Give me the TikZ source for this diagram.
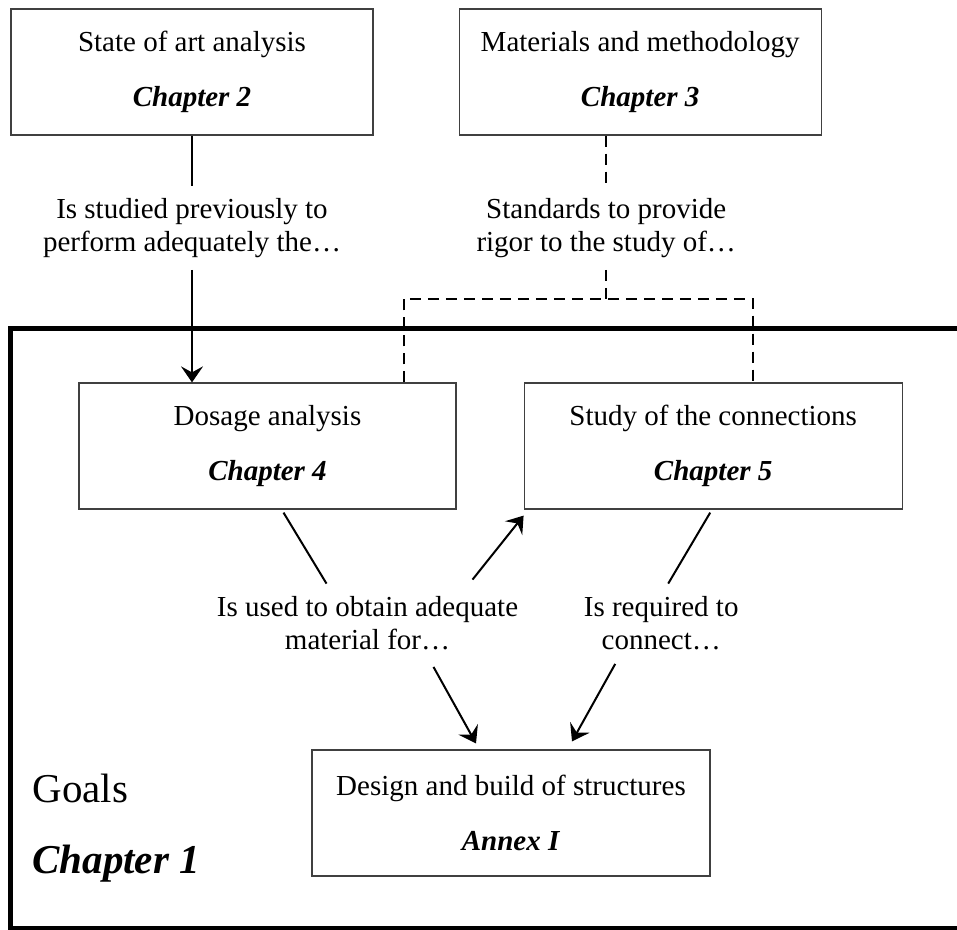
\documentclass[tikz,border=0pt]{standalone}
\usepackage{fontspec}
\setmainfont{Liberation Serif}
\usepackage{xcolor}
\usepackage{tikz}
\usetikzlibrary{arrows.meta, positioning, calc}
\definecolor{boxline}{HTML}{404040}
\newcommand{\chapref}[1]{%
    \textbf{\textit{#1}}%
}

\begin{document}
\begin{tikzpicture}[
        x=0.5pt, y=-0.5pt,
        font=\fontsize{14.5}{16.5}\selectfont,
        chapbox/.style={
            draw=boxline,
            line width=0.6pt,
            minimum height=63pt,
            align=center
        },
        linklabel/.style={align=center, inner sep=6pt},
        link/.style={line width=1pt},
        arrow/.style={-{Stealth[length=8pt, width=11pt, inset=3pt]}, line width=1pt},
        dashlink/.style={line width=1pt, dash pattern=on 5.5pt off 3.5pt},
        frame/.style={line width=2.5pt},
        goalstext/.style={anchor=base west, inner sep=0pt, font=\fontsize{20.5}{24}\selectfont}
    ]
        \path[use as bounding box, clip] (0,0) rectangle (957,930);

        \node[chapbox, minimum width=181pt] (ch2) at (192,72) {State of art analysis\\[11pt]\chapref{Chapter 2}};
        \node[chapbox, minimum width=181pt, right=42.5pt of ch2] (ch3) {Materials and methodology\\[11pt]\chapref{Chapter 3}};
        \node[chapbox, minimum width=188.5pt] (ch4) at (267.5,446) {Dosage analysis\\[11pt]\chapref{Chapter 4}};
        \node[chapbox, minimum width=189pt, right=33.5pt of ch4] (ch5) {Study of the connections\\[11pt]\chapref{Chapter 5}};
        \node[chapbox, minimum width=199pt] (annex) at (511,813) {Design and build of structures\\[11pt]\chapref{Annex I}};

        \node[linklabel, below=25pt of ch2] (lab1) {Is studied previously to\\perform adequately the…};
        \node[linklabel, below=25pt of ch3, xshift=-17pt] (lab2) {Standards to provide\\rigor to the study of…};
        \node[linklabel, below=37pt of ch4, xshift=50pt] (lab3) {Is used to obtain adequate\\material for…};
        \node[linklabel, below=37pt of ch5, xshift=-26pt] (lab4) {Is required to\\connect…};

        \node[goalstext] (goals) at (32,802) {Goals};
        \node[goalstext] (goalsch) at (32,873) {\chapref{Chapter 1}};

        \draw[frame] (10,329) rectangle (1000,928);

        \draw[link] (ch2) -- (lab1);
        \draw[arrow] (lab1) -- (lab1 |- ch4.north);

        \coordinate (brk) at ($(lab2.south)+(0,29)$);
        \draw[dashlink] (ch3.south -| lab2) -- (lab2);
        \draw[dashlink] (lab2) -- (brk);
        \draw[dashlink] ($(ch4.north east)+(-53,0)$) |- (brk) -| ($(ch5.north)+(40,0)$);

        \draw[link] ($(ch4.south)+(16,3)$) -- ($(lab3.north)+(-41,0)$);
        \draw[arrow] ($(lab3.north)+(105,-4)$) -- ($(ch5.south west)+(0,6)$);
        \draw[link] ($(ch5.south)+(-3,3)$) -- ($(lab4.north)+(7,0)$);
        \draw[arrow] ($(lab3.south)+(66,5)$) -- ($(annex.north)+(-35,-6)$);
        \draw[arrow] ($(lab4.south)+(-46,2)$) -- ($(annex.north)+(61,-8)$);
    \end{tikzpicture}
\end{document}
